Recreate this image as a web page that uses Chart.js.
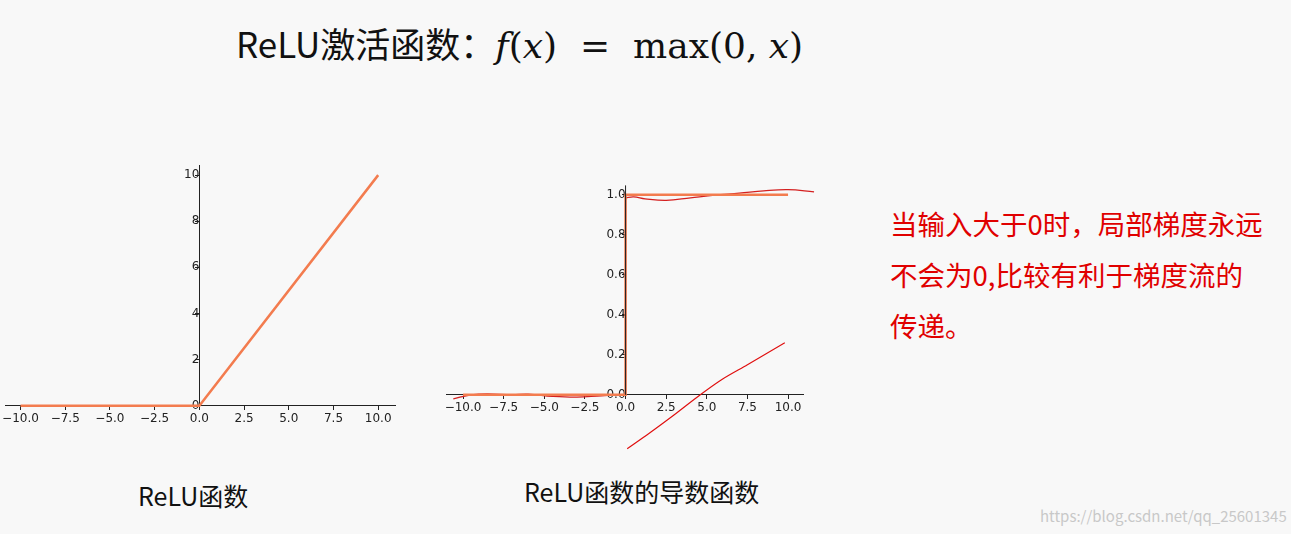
<!DOCTYPE html>
<html><head><meta charset="utf-8">
<script src="https://cdn.jsdelivr.net/npm/chart.js@4"></script>
<style>
body{margin:0;background:#f8f8f8;width:1291px;height:534px;position:relative;overflow:hidden;font-family:"Noto Sans CJK SC","Noto Sans",sans-serif}
.t{position:absolute;white-space:nowrap}
.c{position:absolute}
</style></head><body>
<div class="t" style="left:236px;top:17px;font-size:35px;color:#111">ReLU激活函数：<span style="font-family:'DejaVu Serif',serif;font-size:36px"><i>f</i>(<i>x</i>) &nbsp;= &nbsp;max(0, <i>x</i>)</span></div>
<div class="t" style="left:138px;top:477px;font-size:25px;color:#111">ReLU函数</div>
<div class="t" style="left:524px;top:473px;font-size:25px;color:#111">ReLU函数的导数函数</div>
<div class="t" style="left:890px;top:198px;font-size:27.5px;color:#e00000;line-height:51px">当输入大于0时，局部梯度永远<br>不会为0,比较有利于梯度流的<br>传递。</div>
<div class="t" style="left:1040px;top:505px;font-size:15px;color:#c8c8c8">https://blog.csdn.net/qq_25601345</div>
<div class="c" style="left:0;top:150px;width:420px;height:290px"><canvas id="a"></canvas></div>
<div class="c" style="left:430px;top:170px;width:400px;height:300px"><canvas id="b"></canvas></div>
<script>
const xTicks=[-10,-7.5,-5,-2.5,0,2.5,5,7.5,10];
const reluX=[-10,0,10], reluY=[0,0,10];
const leftYTicks=[0,2,4,6,8,10];
const derivX=[-10,0,0,10], derivY=[0,0,1,1];
const rightYTicks=[0,0.2,0.4,0.6,0.8,1.0];
const waveLowX=[-10.6,-9.5,-8.5,-7,-6,-4.5,-3,-1.5,0], waveLowY=[-0.02,0.0,0.005,0.0,0.003,-0.008,-0.012,-0.005,0];
const waveHighX=[0,0.5,1.2,2.5,4,5.5,7,8.5,10,11.6], waveHighY=[0.985,0.99,0.98,0.972,0.985,0.998,1.008,1.02,1.026,1.015];
const vertX=[0,0], vertY=[0,0.985];
const slantX=[0.1,1.5,3,4.6,6,7.5,9.8], slantY=[-0.27,-0.19,-0.1,0,0.08,0.15,0.26];
const pts=(xs,ys)=>xs.map((x,i)=>({x,y:ys[i]}));
const fmt=v=>{const s=Number(v).toFixed(1);return s.replace('-','−');};
function opts(xmin,xmax,ymin,ymax,yt,yfmt,pad,yBorder){
 return {responsive:true,maintainAspectRatio:false,animation:false,layout:{padding:pad},
 plugins:{legend:{display:false},tooltip:{enabled:false}},
 elements:{point:{radius:0},line:{tension:0}},
 scales:{
  x:{type:'linear',min:xmin,max:xmax,position:{y:0},grid:{drawOnChartArea:false,color:'#222',tickLength:4},border:{color:'#222'},
     afterBuildTicks:s=>{s.ticks=xTicks.map(v=>({value:v}))},ticks:{color:'#222',font:{size:12,family:'DejaVu Sans'},padding:2,callback:v=>fmt(v),maxRotation:0,autoSkip:false}},
  y:{type:'linear',min:ymin,max:ymax,position:{x:0},grid:{drawOnChartArea:false,color:'#222',tickLength:4},border:{display:yBorder,color:'#222'},
     afterBuildTicks:s=>{s.ticks=yt.map(v=>({value:v}))},ticks:{color:'#222',font:{size:12,family:'DejaVu Sans'},padding:8,callback:yfmt,autoSkip:false}}
 }};
}
new Chart(document.getElementById('a'),{type:'line',data:{datasets:[
 {data:pts(reluX,reluY),borderColor:'#f37c4f',borderWidth:2.5}]},
 options:opts(-10.83,10.94,-0.1,10.43,leftYTicks,v=>String(v),{left:3,right:25,top:13,bottom:32},true)});
new Chart(document.getElementById('b'),{type:'line',data:{datasets:[
 {data:pts([0,0],[0,1.048]),borderColor:'#222',borderWidth:1},
 {data:pts(derivX,derivY),borderColor:'#f37c4f',borderWidth:2.5},
 {data:pts(waveLowX,waveLowY),borderColor:'#d42020',borderWidth:1.2,tension:0.4,clip:false},
 {data:pts(waveHighX,waveHighY),borderColor:'#d42020',borderWidth:1.2,tension:0.4,clip:false},
 {data:pts(vertX,vertY),borderColor:'#d42020',borderWidth:1.2},
 {data:pts(slantX,slantY),borderColor:'#e01010',borderWidth:1.2,tension:0.3}]},
 options:opts(-11.05,10.92,-0.3,1.048,rightYTicks,v=>Number(v).toFixed(1),{left:16,right:27,top:13,bottom:0},false)});
</script></body></html>
